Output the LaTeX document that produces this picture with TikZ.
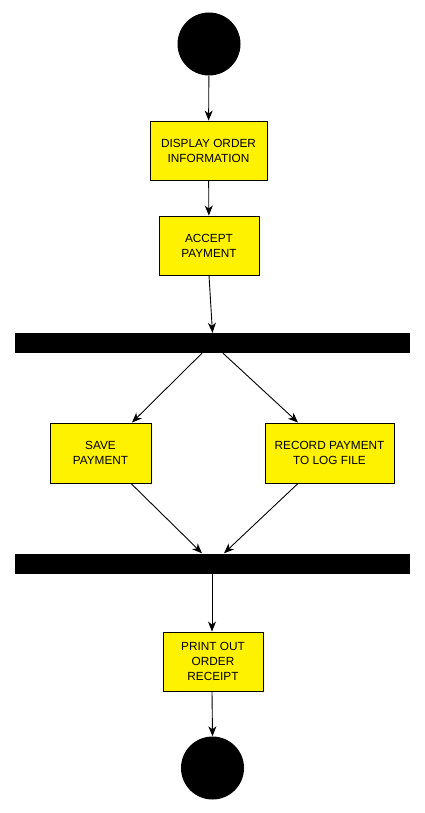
\documentclass[tikz,border=0pt]{standalone}
\usepackage{fontspec}
\setmainfont{Liberation Sans}
\usetikzlibrary{arrows.meta}
\begin{document}
\begin{tikzpicture}[x=1pt,y=-1pt,
  actbox/.style={draw=black,line width=0.9pt,fill=yellow,inner sep=0pt,align=center,
    font=\fontsize{11.8}{15}\selectfont},
  bar/.style={fill=black,draw=none,inner sep=0pt},
  term/.style={circle,fill=black,draw=none,inner sep=0pt},
  flow/.style={-{Stealth[length=10pt,width=8pt,inset=3pt]},line width=0.9pt}]
\useasboundingbox (0,0) rectangle (424,813);
\node[term,minimum size=63pt] (start) at (209,44) {};
\node[actbox,minimum width=117pt,minimum height=59pt] (disp) at (208.5,150.5) {DISPLAY ORDER\\INFORMATION};
\node[actbox,minimum width=100pt,minimum height=59pt] (acc) at (209,245.5) {ACCEPT\\ PAYMENT};
\node[bar,minimum width=395pt,minimum height=20pt] (fork) at (212.5,343) {};
\node[actbox,minimum width=101pt,minimum height=60pt] (save) at (100.5,453) {SAVE\\PAYMENT};
\node[actbox,minimum width=129pt,minimum height=60pt] (rec) at (329.5,453) {RECORD PAYMENT\\TO LOG FILE};
\node[bar,minimum width=395pt,minimum height=20pt] (join) at (212.5,563.5) {};
\node[actbox,minimum width=100pt,minimum height=59pt] (prn) at (213,661.5) {PRINT OUT\\ORDER\\RECEIPT};
\node[term,minimum size=63pt] (end) at (212.5,768) {};
\draw[flow] (start) -- (disp);
\draw[flow] (disp) -- (acc);
\draw[flow] (acc.south) -- (fork.north);
\draw[flow] (fork.south -| 202,0) -- (save.north -| 132,0);
\draw[flow] (fork.south -| 223,0) -- (rec.north -| 298,0);
\draw[flow] (save.south -| 131,0) -- (join.north -| 202,0);
\draw[flow] (rec.south -| 298,0) -- (join.north -| 224,0);
\draw[flow] (join.south -| 212,0) -- (prn.north -| 212,0);
\draw[flow] (prn.south -| 212,0) -- (end.north);
\end{tikzpicture}
\end{document}
